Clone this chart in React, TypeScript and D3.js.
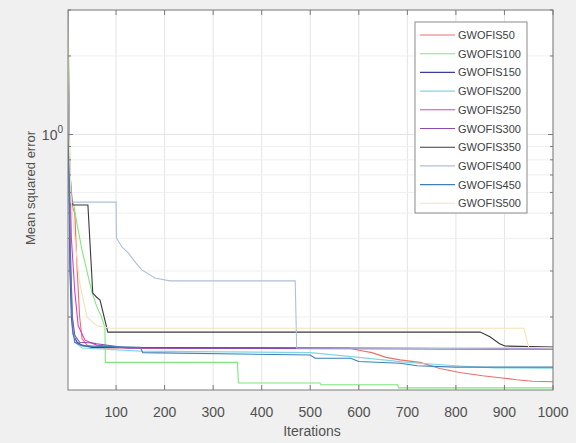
import React from "react";
import * as d3 from "d3";

const seriesNames = ["GWOFIS50","GWOFIS100","GWOFIS150","GWOFIS200","GWOFIS250","GWOFIS300","GWOFIS350","GWOFIS400","GWOFIS450","GWOFIS500"];
const seriesColors = ["#e8706a","#7ee87e","#3c3ca0","#7fd6e6","#e03cc8","#8a4cb0","#3a3a3a","#b0bfd8","#3f7fb5","#f5e2b8"];

const s50 = [[1,3.0],[3,1.2],[5,0.56],[15,0.5],[20,0.3],[25,0.2],[30,0.165],[40,0.156],[60,0.152],[580,0.152],[600,0.149],[627,0.146],[656,0.14],[685,0.137],[726,0.134],[767,0.127],[808,0.1225],[855,0.119],[891,0.117],[925,0.115],[958,0.1135],[1000,0.113]];
const s100 = [[1,3.0],[2,2.2],[4,1.0],[6,0.56],[12,0.55],[20,0.45],[30,0.36],[40,0.3],[50,0.25],[60,0.22],[70,0.2],[77,0.182],[78,0.134],[350,0.134],[352,0.1117],[520,0.1117],[522,0.11],[680,0.11],[682,0.107],[1000,0.107]];
const s150 = [[1,3.0],[2,1.0],[5,0.3],[8,0.2],[12,0.17],[20,0.16],[30,0.156],[50,0.153],[1000,0.151]];
const s200 = [[1,3.0],[2,2.0],[4,0.8],[7,0.3],[10,0.2],[15,0.16],[30,0.152],[150,0.148],[500,0.146],[600,0.14],[700,0.134],[800,0.13],[880,0.1275],[1000,0.1274]];
const s250 = [[1,3.0],[3,1.0],[8,0.4],[15,0.25],[22,0.185],[36,0.163],[60,0.156],[120,0.152],[1000,0.1515]];
const s300 = [[1,3.0],[3,0.8],[5,0.4],[10,0.2],[15,0.17],[25,0.16],[52,0.159],[60,0.158],[125,0.152],[1000,0.1505]];
const s350 = [[1,3.0],[3,0.8],[10,0.537],[42,0.537],[52,0.247],[60,0.238],[67,0.232],[83,0.175],[850,0.175],[870,0.168],[890,0.158],[901,0.1547],[1000,0.1534]];
const s400 = [[1,3.0],[3,1.0],[7,0.551],[100,0.551],[101,0.401],[112,0.371],[125,0.352],[139,0.325],[153,0.303],[180,0.282],[211,0.275],[469,0.275],[472,0.152],[1000,0.151]];
const s450 = [[1,3.0],[3,0.7],[6,0.3],[10,0.18],[15,0.16],[30,0.155],[150,0.153],[155,0.146],[500,0.143],[510,0.139],[583,0.139],[600,0.135],[685,0.133],[720,0.13],[800,0.1285],[1000,0.1285]];
const s500 = [[1,3.0],[3,1.0],[8,0.55],[15,0.4],[25,0.27],[40,0.2],[60,0.185],[90,0.181],[940,0.181],[950,0.153],[1000,0.152]];
const allSeries = [s50,s100,s150,s200,s250,s300,s350,s400,s450,s500];

const xTicks = [100,200,300,400,500,600,700,800,900,1000];
const yMajorTicks = [1];
const yMinorTicks = [0.2,0.3,0.4,0.5,0.6,0.7,0.8,0.9,2,3];

const W = 576, H = 443;
const L = 68, R = 553, T = 10, B = 390;
const FONT = "'Liberation Sans', Arial, sans-serif";

export default function App() {
  const x = d3.scaleLinear().domain([1, 1000]).range([L, R]);
  const y = d3.scaleLog().domain([0.105, 3.0]).range([B, T]);
  const line = d3.line<number[]>().x(d => x(d[0])).y(d => y(d[1]));
  const legX = 415, legY = 22, legW = 112, legH = 191;
  const rowH = 18.7;
  return (
    <svg width={W} height={H} style={{ position: "absolute", left: 0, top: 0 }} fontFamily={FONT}>
      <defs>
        <clipPath id="plot"><rect x={L} y={T} width={R - L} height={B - T} /></clipPath>
      </defs>
      <rect x={0} y={0} width={W} height={H} fill="#f0f0f0" />
      <rect x={L} y={T} width={R - L} height={B - T} fill="#ffffff" />
      {xTicks.map(t => (
        <line key={"gx" + t} x1={x(t)} x2={x(t)} y1={T} y2={B} stroke="#e4e4e4" strokeWidth={1} />
      ))}
      {yMinorTicks.map(t => (
        <line key={"gym" + t} x1={L} x2={R} y1={y(t)} y2={y(t)} stroke="#efefef" strokeWidth={1} />
      ))}
      {yMajorTicks.map(t => (
        <line key={"gy" + t} x1={L} x2={R} y1={y(t)} y2={y(t)} stroke="#e4e4e4" strokeWidth={1} />
      ))}
      <g clipPath="url(#plot)">
        {allSeries.map((s, i) => (
          <path key={seriesNames[i]} d={line(s) || ""} fill="none" stroke={seriesColors[i]} strokeWidth={1.1} />
        ))}
      </g>
      <rect x={L} y={T} width={R - L} height={B - T} fill="none" stroke="#7a7a7a" strokeWidth={1} />
      {xTicks.map(t => (
        <g key={"tx" + t}>
          <line x1={x(t)} x2={x(t)} y1={B} y2={B - 5} stroke="#7a7a7a" />
          <line x1={x(t)} x2={x(t)} y1={T} y2={T + 5} stroke="#7a7a7a" />
          <text x={x(t)} y={417} textAnchor="middle" fontSize={14} fill="#505050">{t}</text>
        </g>
      ))}
      {yMinorTicks.map(t => (
        <g key={"tym" + t}>
          <line x1={L} x2={L + 3} y1={y(t)} y2={y(t)} stroke="#7a7a7a" />
          <line x1={R} x2={R - 3} y1={y(t)} y2={y(t)} stroke="#7a7a7a" />
        </g>
      ))}
      {yMajorTicks.map(t => (
        <g key={"ty" + t}>
          <line x1={L} x2={L + 5} y1={y(t)} y2={y(t)} stroke="#7a7a7a" />
          <line x1={R} x2={R - 5} y1={y(t)} y2={y(t)} stroke="#7a7a7a" />
          <text x={L - 5} y={y(t) + 5} textAnchor="end" fontSize={14} fill="#505050">
            10<tspan dy={-7} fontSize={10}>0</tspan>
          </text>
        </g>
      ))}
      <text x={312} y={436} textAnchor="middle" fontSize={14} fill="#505050">Iterations</text>
      <text transform={`translate(35,${(T + B) / 2 - 12}) rotate(-90)`} textAnchor="middle" fontSize={13} fill="#505050">Mean squared error</text>
      <rect x={legX} y={legY} width={legW} height={legH} fill="#ffffff" stroke="#8a8a8a" strokeWidth={1} />
      {seriesNames.map((n, i) => {
        const cy = legY + 13 + i * rowH;
        return (
          <g key={"lg" + n}>
            <line x1={legX + 5} x2={legX + 40} y1={cy} y2={cy} stroke={seriesColors[i]} strokeWidth={1.1} />
            <text x={legX + 43} y={cy + 4} fontSize={11} fill="#404040">{n}</text>
          </g>
        );
      })}
    </svg>
  );
}
